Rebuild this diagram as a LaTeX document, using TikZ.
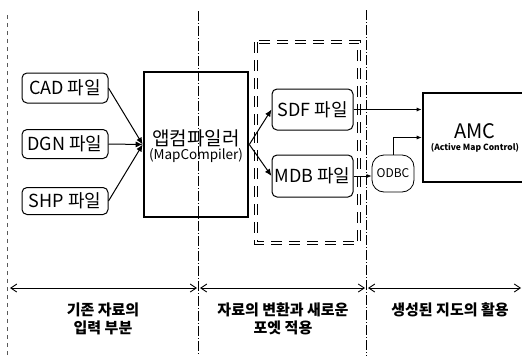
\documentclass[tikz,border=0pt]{standalone}
\usepackage{fontspec}
\setmainfont{Noto Sans CJK KR}
\usetikzlibrary{arrows.meta,calc}
\tikzset{
  filebox/.style={draw, line width=1pt, rounded corners=5pt, minimum width=86pt, inner sep=0pt, font=\fontsize{18}{18}\selectfont},
  bigbox/.style={draw, line width=2.6pt, inner sep=0pt},
  arr/.style={line width=1pt, -{Latex[length=7pt,width=6pt]}},
  sarr/.style={line width=0.7pt, -{Latex[length=5pt,width=4pt]}},
  guide/.style={line width=0.6pt, dash pattern=on 10pt off 2pt on 1pt off 2pt},
  span/.style={line width=0.9pt, {Straight Barb[length=6pt,width=8pt]}-{Straight Barb[length=6pt,width=8pt]}},
  caption/.style={align=center, font=\bfseries\fontsize{15}{18}\selectfont},
}
\begin{document}
\begin{tikzpicture}[x=1pt,y=-1pt]
\useasboundingbox (0,0) rectangle (522,356);
\fill[white] (0,0) rectangle (522,356);
% guide lines
\coordinate (l1) at (7,15); \coordinate (l2) at (7,356);
\draw[line width=0.5pt, gray!70!black, dash pattern=on 4pt off 4pt] (l1) -- (l2);
\coordinate (g1a) at (198,11); \coordinate (g1b) at (198,356);
\coordinate (g2a) at (366,10); \coordinate (g2b) at (366,356);
\draw[guide] (g1a) -- (g1b);
\draw[guide] (g2a) -- (g2b);
% dashed group box
\draw[line width=1pt, double=white, double distance=2pt, dash pattern=on 11pt off 7pt] (256,42) rectangle (359,243);
% input files
\node[filebox, minimum height=30pt] (cad) at (65,88) {CAD 파일};
\node[filebox, minimum height=29pt] (dgn) at (65,144) {DGN 파일};
\node[filebox, minimum height=27pt] (shp) at (65,201) {SHP 파일};
% MapCompiler
\node[bigbox, minimum width=104pt, minimum height=145pt, align=center, text depth=-8pt] (mc) at (196,144.5)
  {{\fontsize{19}{20}\selectfont 앱컴파일러}\\[1pt]{\fontsize{13.5}{14}\selectfont (MapCompiler)}};
% output files
\node[filebox, minimum width=81pt, minimum height=41pt] (sdf) at (312.5,109.5) {SDF 파일};
\node[filebox, minimum width=81pt, minimum height=42pt] (mdb) at (312.5,176) {MDB 파일};
\node[draw, line width=0.8pt, rounded corners=12pt, minimum width=42pt, minimum height=37pt, inner sep=0pt, font=\fontsize{12}{12}\selectfont] (odbc) at (393,173.5) {ODBC};
% AMC
\node[bigbox, minimum width=104pt, minimum height=89pt, align=center] (amc) at (475,137.5)
  {{\fontsize{20}{20}\selectfont AMC}\\[0pt]{\bfseries\fontsize{8.5}{9}\selectfont (Active Map Control)}};
% connectors
\draw[arr] (cad.east) -- (mc.west);
\draw[arr] (dgn.east) -- (mc.west);
\draw[arr] (shp.east) -- (mc.west);
\draw[arr] (mc.east) -- (sdf.west);
\draw[arr] (mc.east) -- (mdb.west);
\draw[sarr, line width=1pt] (sdf.east) -- (sdf.east -| amc.west);
\draw[sarr] (mdb.east) -- (mdb.east -| odbc.west);
\draw[sarr] (odbc.north) |- (amc.west);
% spans
\coordinate (s1a) at (10,288); \coordinate (s1b) at (197,288);
\coordinate (s2a) at (200,288); \coordinate (s2b) at (365,288);
\coordinate (s3a) at (368,288); \coordinate (s3b) at (521,288);
\draw[span] (s1a) -- (s1b);
\draw[span] (s2a) -- (s2b);
\draw[span] (s3a) -- (s3b);
\node[caption] (c1) at (103,319) {기존 자료의\\입력 부분};
\node[caption] (c2) at (283,319) {자료의 변환과 새로운\\포엣 적용};
\node[caption] (c3) at (450,310) {생성된 지도의 활용};
\end{tikzpicture}
\end{document}
